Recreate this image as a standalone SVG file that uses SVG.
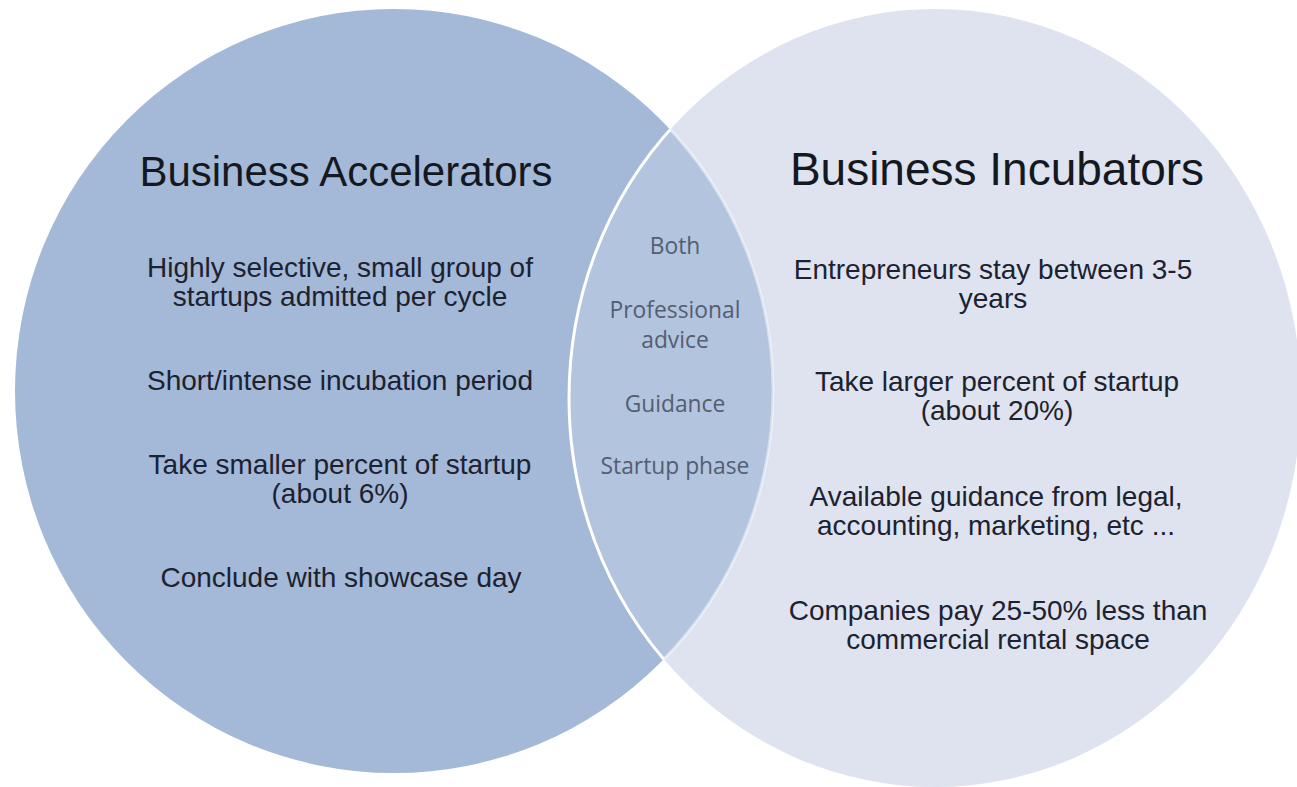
<svg xmlns="http://www.w3.org/2000/svg" width="1297" height="787" viewBox="0 0 1297 787">
  <defs>
    <style>
      .title { font-family: "Liberation Sans", Arial, sans-serif; fill: #141821; text-anchor: middle; }
      .item { font-family: "Liberation Sans", Arial, sans-serif; font-size: 28px; fill: #1c2230; text-anchor: middle; }
      .shared { font-family: "Open Sans", "Noto Sans", sans-serif; font-size: 22.8px; fill: #545e71; text-anchor: middle; }
    </style>
    <clipPath id="clipLeft">
      <ellipse cx="394" cy="391" rx="379" ry="382"/>
    </clipPath>
    <clipPath id="clipRight">
      <ellipse cx="935" cy="398" rx="366" ry="389"/>
    </clipPath>
  </defs>

  <rect width="1297" height="787" fill="#ffffff"/>

  <!-- Left set: accelerators -->
  <g id="accelerators">
    <ellipse cx="394" cy="391" rx="379" ry="382" fill="#a4b8d7"/>
  </g>

  <!-- Right set: incubators -->
  <g id="incubators">
    <ellipse cx="935" cy="398" rx="366" ry="389" fill="#dee3ef"/>
  </g>

  <!-- Overlap lens and the outlines that bound it -->
  <g id="overlap">
    <ellipse cx="935" cy="398" rx="366" ry="389" fill="#b3c4de" clip-path="url(#clipLeft)"/>
    <ellipse cx="394" cy="391" rx="379" ry="382" fill="none" stroke="#ffffff" stroke-opacity="0.45" stroke-width="3" clip-path="url(#clipRight)"/>
    <ellipse cx="935" cy="398" rx="366" ry="389" fill="none" stroke="#ffffff" stroke-width="3" clip-path="url(#clipLeft)"/>
  </g>

  <g id="accelerators-text">
    <text class="title" x="346" y="186" font-size="42">Business Accelerators</text>
    <text class="item" x="340" y="277">Highly selective, small group of</text>
    <text class="item" x="340" y="306">startups admitted per cycle</text>
    <text class="item" x="340" y="390">Short/intense incubation period</text>
    <text class="item" x="340" y="474">Take smaller percent of startup</text>
    <text class="item" x="340" y="503">(about 6%)</text>
    <text class="item" x="341" y="587">Conclude with showcase day</text>
  </g>

  <g id="incubators-text">
    <text class="title" x="997" y="185" font-size="46">Business Incubators</text>
    <text class="item" x="993" y="279">Entrepreneurs stay between 3-5</text>
    <text class="item" x="993" y="308">years</text>
    <text class="item" x="997" y="391">Take larger percent of startup</text>
    <text class="item" x="997" y="420">(about 20%)</text>
    <text class="item" x="996" y="506">Available guidance from legal,</text>
    <text class="item" x="996" y="535">accounting, marketing, etc ...</text>
    <text class="item" x="998" y="620">Companies pay 25-50% less than</text>
    <text class="item" x="998" y="649">commercial rental space</text>
  </g>

  <g id="overlap-text">
    <text class="shared" x="675" y="254">Both</text>
    <text class="shared" x="675" y="318">Professional</text>
    <text class="shared" x="675" y="348">advice</text>
    <text class="shared" x="675" y="412">Guidance</text>
    <text class="shared" x="675" y="474">Startup phase</text>
  </g>
</svg>
